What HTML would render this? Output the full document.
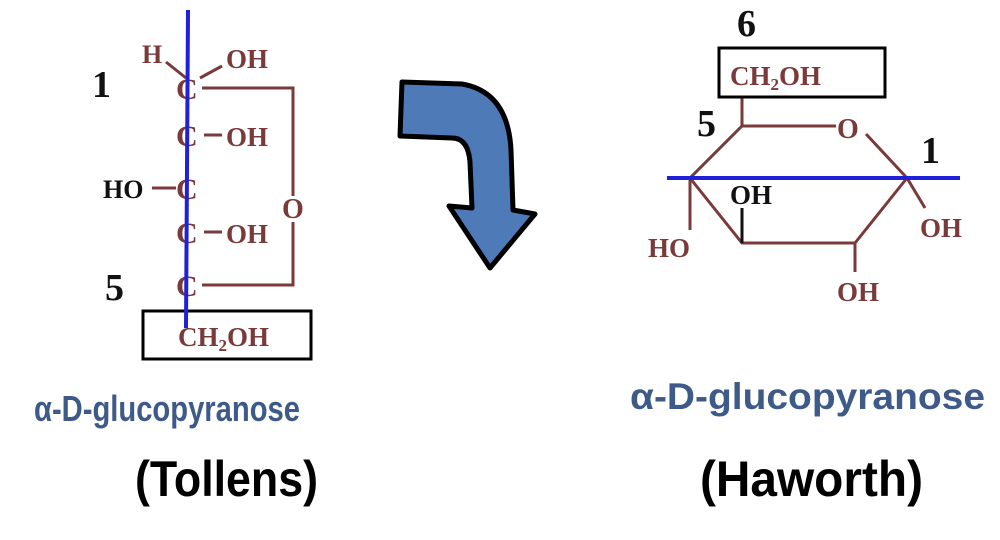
<!DOCTYPE html>
<html><head><meta charset="utf-8"><style>
html,body{margin:0;padding:0;background:#fff;}
svg{display:block;}
.ch{font-family:"Liberation Serif",serif;font-weight:bold;fill:#7a3a3a;}
.bk{font-family:"Liberation Serif",serif;font-weight:bold;fill:#111;}
.lb{font-family:"Liberation Sans",sans-serif;font-weight:bold;fill:#3d5a88;}
.tt{font-family:"Liberation Sans",sans-serif;font-weight:bold;fill:#000;}
</style></head><body>
<svg width="1000" height="540" viewBox="0 0 1000 540" xmlns="http://www.w3.org/2000/svg">
<rect width="1000" height="540" fill="#fff"/>
<!-- Tollens -->
<g stroke="#7a3a3a" stroke-width="3" fill="none">
  <polyline points="202,88 293,88 293,196"/>
  <polyline points="293,222 293,285 202,285"/>
  <line x1="166" y1="62" x2="186" y2="78"/>
  <line x1="200" y1="78" x2="222" y2="66"/>
  <line x1="204" y1="135" x2="222" y2="135"/>
  <line x1="152" y1="188" x2="176" y2="188"/>
  <line x1="204" y1="232" x2="222" y2="232"/>
</g>
<text class="ch" x="142" y="63" font-size="26">H</text>
<text class="ch" x="226" y="68" font-size="27">OH</text>
<text class="ch" x="176" y="99" font-size="30">C</text>
<text class="ch" x="176" y="146" font-size="30">C</text>
<text class="ch" x="226" y="146" font-size="27">OH</text>
<text class="ch" x="176" y="199" font-size="30">C</text>
<text class="bk" x="103" y="198" font-size="26">HO</text>
<text class="ch" x="176" y="243" font-size="30">C</text>
<text class="ch" x="226" y="243" font-size="27">OH</text>
<text class="ch" x="282" y="218" font-size="28">O</text>
<text class="ch" x="176" y="296" font-size="30">C</text>
<rect x="143" y="311" width="168" height="48" fill="none" stroke="#000" stroke-width="3"/>
<text class="ch" x="178" y="346" font-size="27">CH<tspan font-size="17" dy="5">2</tspan><tspan dy="-5">OH</tspan></text>
<line x1="188" y1="10" x2="186" y2="328" stroke="#2020d8" stroke-width="4"/>
<text class="bk" x="92" y="97" font-size="38">1</text>
<text class="bk" x="105" y="300" font-size="38">5</text>
<!-- arrow -->
<path d="M402,82 L462,84 Q508,92 511,150 L513,210 L535,214 L490,268 L449,206 L472,208 L470,162 Q468,138 452,138 L400,136 Z" fill="#4f7ab8" stroke="#000" stroke-width="5" stroke-linejoin="round"/>
<!-- Haworth -->
<g stroke="#7a3a3a" stroke-width="3" fill="none">
  <polyline points="742,98 742,126 836,126"/>
  <line x1="866" y1="134" x2="907" y2="178"/>
  <polyline points="742,126 690,178 742,243 855,243 907,178"/>
  <line x1="690" y1="178" x2="690" y2="230"/>
  <line x1="855" y1="243" x2="855" y2="272"/>
  <line x1="907" y1="178" x2="925" y2="208"/>
</g>
<line x1="742" y1="243" x2="742" y2="208" stroke="#111" stroke-width="3"/>
<text class="ch" x="837" y="138" font-size="28">O</text>
<rect x="719" y="48" width="166" height="49" fill="none" stroke="#000" stroke-width="3"/>
<text class="ch" x="730" y="85" font-size="27">CH<tspan font-size="17" dy="5">2</tspan><tspan dy="-5">OH</tspan></text>
<text class="bk" x="730" y="204" font-size="27">OH</text>
<text class="ch" x="648" y="257" font-size="27">HO</text>
<text class="ch" x="920" y="237" font-size="27">OH</text>
<text class="ch" x="837" y="301" font-size="27">OH</text>
<line x1="667" y1="178" x2="960" y2="178" stroke="#2020d8" stroke-width="4"/>
<text class="bk" x="737" y="36" font-size="38">6</text>
<text class="bk" x="697" y="136" font-size="38">5</text>
<text class="bk" x="921" y="163" font-size="38">1</text>
<!-- labels -->
<text class="lb" x="34" y="421" font-size="36" textLength="266" lengthAdjust="spacingAndGlyphs">α-D-glucopyranose</text>
<text class="lb" x="630" y="409" font-size="37" textLength="355" lengthAdjust="spacingAndGlyphs">α-D-glucopyranose</text>
<text class="tt" x="135" y="496" font-size="50" textLength="183" lengthAdjust="spacingAndGlyphs">(Tollens)</text>
<text class="tt" x="700" y="496" font-size="50" textLength="223" lengthAdjust="spacingAndGlyphs">(Haworth)</text>
</svg>
</body></html>
